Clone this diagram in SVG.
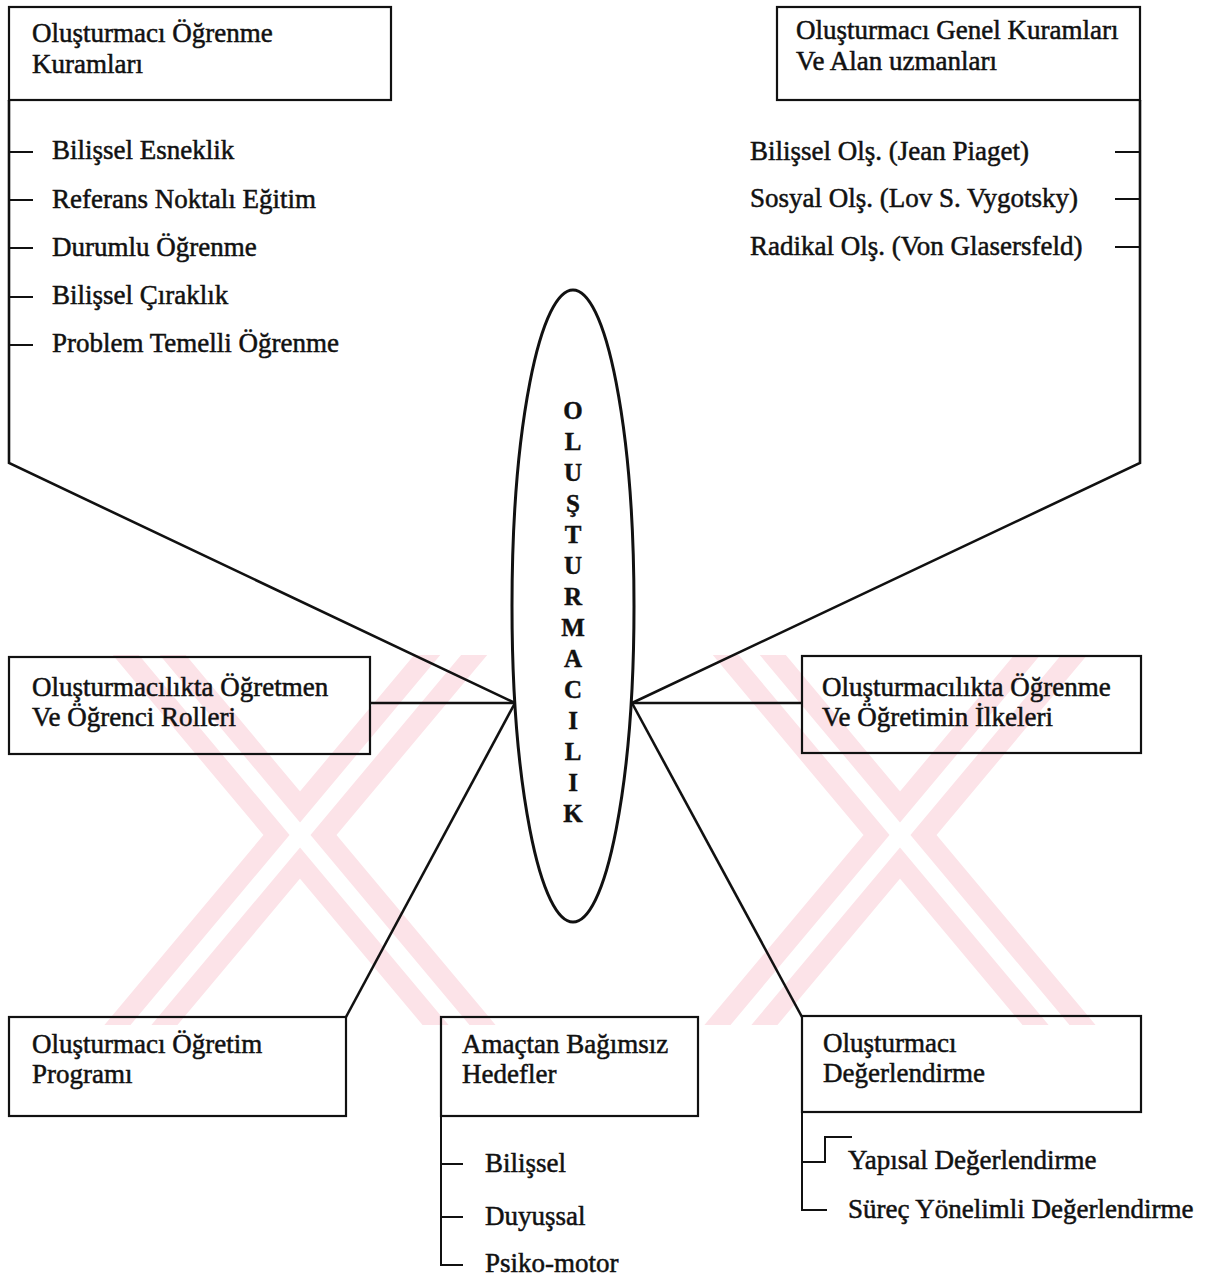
<svg xmlns="http://www.w3.org/2000/svg" width="1221" height="1279" viewBox="0 0 1221 1279">
<style>
  .t{font-family:"Liberation Serif","Times New Roman",serif;font-size:27px;fill:#111;stroke:#111;stroke-width:0.5}
  .v{font-family:"Liberation Serif","Times New Roman",serif;font-size:25px;font-weight:bold;fill:#111;stroke:#111;stroke-width:0.4;text-anchor:middle}
  .box{fill:none;stroke:#111;stroke-width:2.2}
  .ln{fill:none;stroke:#111;stroke-width:2.6;stroke-linejoin:miter}
  .tk{fill:none;stroke:#111;stroke-width:2}
  .wp{stroke:#fce3e8;stroke-width:56;fill:none}
  .ww{stroke:#fff;stroke-width:16;fill:none}
</style>
<defs>
  <clipPath id="wm"><rect x="80" y="655" width="1060" height="370"/></clipPath>
</defs>
<rect width="1221" height="1279" fill="#fff"/>
<g id="watermark" clip-path="url(#wm)">
  <path class="wp" d="M120,620 L480,1050 M480,620 L120,1050 M720,620 L1080,1050 M1080,620 L720,1050"/>
  <path class="ww" d="M120,620 L480,1050 M480,620 L120,1050 M720,620 L1080,1050 M1080,620 L720,1050"/>
</g>
<g id="connectors">
  <polyline class="ln" points="9,100 9,463 515,703"/>
  <line class="tk" x1="9" y1="152" x2="33" y2="152"/>
  <line class="tk" x1="9" y1="200" x2="33" y2="200"/>
  <line class="tk" x1="9" y1="248" x2="33" y2="248"/>
  <line class="tk" x1="9" y1="297" x2="33" y2="297"/>
  <line class="tk" x1="9" y1="345" x2="33" y2="345"/>
  <polyline class="ln" points="1140,100 1140,463 632,703"/>
  <line class="tk" x1="1115" y1="152" x2="1140" y2="152"/>
  <line class="tk" x1="1115" y1="199" x2="1140" y2="199"/>
  <line class="tk" x1="1115" y1="247" x2="1140" y2="247"/>
  <line class="ln" x1="370" y1="703" x2="515" y2="703"/>
  <line class="ln" x1="632" y1="703" x2="802" y2="703"/>
  <line class="ln" x1="515" y1="703" x2="346" y2="1017"/>
  <line class="ln" x1="632" y1="703" x2="802" y2="1017"/>
  <polyline class="tk" points="441,1116 441,1265 463,1265"/>
  <line class="tk" x1="441" y1="1164" x2="463" y2="1164"/>
  <line class="tk" x1="441" y1="1217" x2="463" y2="1217"/>
  <polyline class="tk" points="802,1112 802,1210 827,1210"/>
  <polyline class="tk" points="802,1162 825,1162 825,1137 852,1137"/>
</g>
<g id="center">
  <ellipse cx="573" cy="606" rx="61" ry="316" fill="none" stroke="#111" stroke-width="3"/>
  <text class="v" x="573" y="419">O</text>
  <text class="v" x="573" y="450">L</text>
  <text class="v" x="573" y="481">U</text>
  <text class="v" x="573" y="512">Ş</text>
  <text class="v" x="573" y="543">T</text>
  <text class="v" x="573" y="574">U</text>
  <text class="v" x="573" y="605">R</text>
  <text class="v" x="573" y="636">M</text>
  <text class="v" x="573" y="667">A</text>
  <text class="v" x="573" y="698">C</text>
  <text class="v" x="573" y="729">I</text>
  <text class="v" x="573" y="760">L</text>
  <text class="v" x="573" y="791">I</text>
  <text class="v" x="573" y="822">K</text>
</g>
<g id="n-ogrenme-kuramlari">
  <rect class="box" x="9" y="7" width="382" height="93" fill="none"/>
  <text class="t" x="32" y="42">Oluşturmacı Öğrenme</text>
  <text class="t" x="32" y="73">Kuramları</text>
  <text class="t" x="52" y="159">Bilişsel Esneklik</text>
  <text class="t" x="52" y="208">Referans Noktalı Eğitim</text>
  <text class="t" x="52" y="256">Durumlu Öğrenme</text>
  <text class="t" x="52" y="304">Bilişsel Çıraklık</text>
  <text class="t" x="52" y="352">Problem Temelli Öğrenme</text>
</g>
<g id="n-genel-kuramlar">
  <rect class="box" x="777" y="7" width="363" height="93"/>
  <text class="t" x="796" y="39">Oluşturmacı Genel Kuramları</text>
  <text class="t" x="796" y="70">Ve Alan uzmanları</text>
  <text class="t" x="750" y="160">Bilişsel Olş. (Jean Piaget)</text>
  <text class="t" x="750" y="207">Sosyal Olş. (Lov S. Vygotsky)</text>
  <text class="t" x="750" y="255">Radikal Olş. (Von Glasersfeld)</text>
</g>
<g id="n-roller">
  <rect class="box" x="9" y="657" width="361" height="97"/>
  <text class="t" x="32" y="696">Oluşturmacılıkta Öğretmen</text>
  <text class="t" x="32" y="726">Ve Öğrenci  Rolleri</text>
</g>
<g id="n-ilkeler">
  <rect class="box" x="802" y="656" width="339" height="97"/>
  <text class="t" x="822" y="696">Oluşturmacılıkta Öğrenme</text>
  <text class="t" x="822" y="726">Ve Öğretimin İlkeleri</text>
</g>
<g id="n-program">
  <rect class="box" x="9" y="1017" width="337" height="99"/>
  <text class="t" x="32" y="1053">Oluşturmacı Öğretim</text>
  <text class="t" x="32" y="1083">Programı</text>
</g>
<g id="n-hedefler">
  <rect class="box" x="441" y="1017" width="257" height="99"/>
  <text class="t" x="462" y="1053">Amaçtan Bağımsız</text>
  <text class="t" x="462" y="1083">Hedefler</text>
  <text class="t" x="485" y="1172">Bilişsel</text>
  <text class="t" x="485" y="1225">Duyuşsal</text>
  <text class="t" x="485" y="1272">Psiko-motor</text>
</g>
<g id="n-degerlendirme">
  <rect class="box" x="802" y="1016" width="339" height="96"/>
  <text class="t" x="823" y="1052">Oluşturmacı</text>
  <text class="t" x="823" y="1082">Değerlendirme</text>
  <text class="t" x="848" y="1169">Yapısal Değerlendirme</text>
  <text class="t" x="848" y="1218">Süreç Yönelimli Değerlendirme</text>
</g>
</svg>
